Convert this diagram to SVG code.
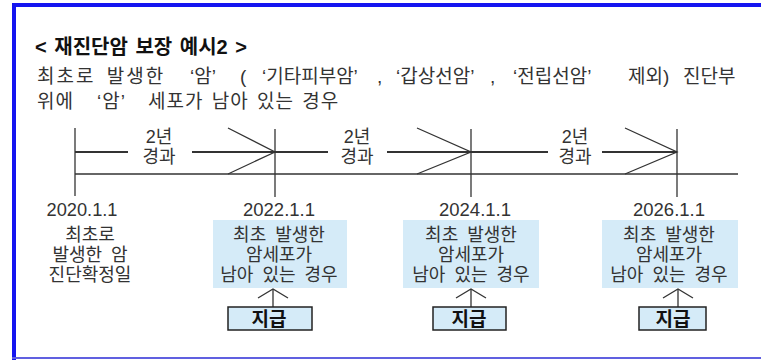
<svg xmlns="http://www.w3.org/2000/svg" width="761" height="360" viewBox="0 0 761 360">
<style>
.t{font-family:"Liberation Sans","Noto Sans CJK KR",sans-serif;fill:#333;}
.k{font-size:19px;}
.s{font-size:18px;word-spacing:4px;}
.d{font-size:19px;}
.title{font-family:"Liberation Sans","Noto Sans CJK KR",sans-serif;font-size:20px;font-weight:bold;fill:#111;word-spacing:2px;}
.ln{stroke:#333;stroke-width:1.3;fill:none;}
.thick{stroke:#333;stroke-width:2.2;fill:none;}
.box{fill:#d5ebf8;}
.pay{fill:#d5ebf8;stroke:#222;stroke-width:1.5;}
.payt{font-family:"Liberation Sans","Noto Sans CJK KR",sans-serif;font-size:19px;font-weight:bold;fill:#111;}
</style>
<rect x="0" y="0" width="761" height="360" fill="#fff"/>
<g id="frame">
<rect x="12" y="3" width="749" height="4" fill="#1515f0"/>
<rect x="12" y="3" width="4" height="357" fill="#1515f0"/>
<line x1="12" y1="358" x2="761" y2="358" stroke="#6060e0" stroke-width="2"/>
</g>
<g id="header">
<text class="title" x="35" y="54">&lt; 재진단암 보장 예시2 &gt;</text>
<text class="t k" y="83"><tspan x="37" letter-spacing="2" word-spacing="4">최초로 발생한</tspan><tspan x="190">‘암’</tspan><tspan x="240">(</tspan><tspan x="262">‘기타피부암’</tspan><tspan x="377">,</tspan><tspan x="396">‘갑상선암’</tspan><tspan x="490">,</tspan><tspan x="513">‘전립선암’</tspan><tspan x="628">제외)</tspan><tspan x="683">진단부</tspan></text>
<text class="t k" y="108" letter-spacing="1" word-spacing="2"><tspan x="37">위에</tspan><tspan x="97">‘암’</tspan><tspan x="148">세포가 남아 있는 경우</tspan></text>
</g>
<g id="connectors">
<line class="ln" x1="75" y1="128" x2="75" y2="196"/>
<line class="ln" x1="75" y1="174" x2="738" y2="174"/>
<line class="thick" x1="75" y1="152" x2="128" y2="152"/>
<line class="thick" x1="192" y1="152" x2="275" y2="152"/>
<line class="thick" x1="275" y1="152" x2="328" y2="152"/>
<line class="thick" x1="387" y1="152" x2="471" y2="152"/>
<line class="thick" x1="471" y1="152" x2="548" y2="152"/>
<line class="thick" x1="602" y1="152" x2="677" y2="152"/>
<line class="ln" x1="275" y1="129" x2="275" y2="197"/>
<line class="ln" x1="471" y1="129" x2="471" y2="197"/>
<line class="ln" x1="677" y1="129" x2="677" y2="197"/>
<polyline class="ln" points="228,128 275,152 228,174"/>
<polyline class="ln" points="417,128 471,152 417,174"/>
<polyline class="ln" points="625,128 677,152 625,174"/>
<line class="ln" x1="273" y1="289" x2="273" y2="307"/>
<polyline class="ln" points="258,298 273,289 288,298"/>
<line class="ln" x1="471" y1="289" x2="471" y2="307"/>
<polyline class="ln" points="456,298 471,289 486,298"/>
<line class="ln" x1="678" y1="289" x2="678" y2="307"/>
<polyline class="ln" points="663,298 678,289 693,298"/>
</g>
<g id="labels" text-anchor="middle">
<text class="t s" x="159" y="143">2년</text>
<text class="t s" x="159" y="163">경과</text>
<text class="t s" x="357" y="143">2년</text>
<text class="t s" x="357" y="163">경과</text>
<text class="t s" x="575" y="143">2년</text>
<text class="t s" x="575" y="163">경과</text>
</g>
<g id="node-2020" text-anchor="middle">
<text class="t d" x="82" y="216" textLength="71" lengthAdjust="spacingAndGlyphs">2020.1.1</text>
<text class="t s" x="90" y="241">최초로</text>
<text class="t s" x="90" y="261">발생한 암</text>
<text class="t s" x="90" y="281">진단확정일</text>
</g>
<g id="node-2022" text-anchor="middle">
<text class="t d" x="279" y="216" textLength="72" lengthAdjust="spacingAndGlyphs">2022.1.1</text>
<rect class="box" x="213" y="220" width="134" height="68"/>
<text class="t s" x="279" y="241">최초 발생한</text>
<text class="t s" x="279" y="261">암세포가</text>
<text class="t s" x="279" y="281">남아 있는 경우</text>
</g>
<g id="node-2024" text-anchor="middle">
<text class="t d" x="475" y="216" textLength="72" lengthAdjust="spacingAndGlyphs">2024.1.1</text>
<rect class="box" x="403" y="220" width="136" height="68"/>
<text class="t s" x="471" y="241">최초 발생한</text>
<text class="t s" x="471" y="261">암세포가</text>
<text class="t s" x="471" y="281">남아 있는 경우</text>
</g>
<g id="node-2026" text-anchor="middle">
<text class="t d" x="669" y="216" textLength="72" lengthAdjust="spacingAndGlyphs">2026.1.1</text>
<rect class="box" x="602" y="220" width="136" height="68"/>
<text class="t s" x="669" y="241">최초 발생한</text>
<text class="t s" x="669" y="261">암세포가</text>
<text class="t s" x="669" y="281">남아 있는 경우</text>
</g>
<g id="pay-1" text-anchor="middle">
<rect class="pay" x="228" y="307" width="84" height="23"/>
<text class="payt" x="269" y="326">지급</text>
</g>
<g id="pay-2" text-anchor="middle">
<rect class="pay" x="433" y="307" width="73" height="23"/>
<text class="payt" x="469" y="326">지급</text>
</g>
<g id="pay-3" text-anchor="middle">
<rect class="pay" x="639" y="307" width="67" height="23"/>
<text class="payt" x="673" y="326">지급</text>
</g>
</svg>
